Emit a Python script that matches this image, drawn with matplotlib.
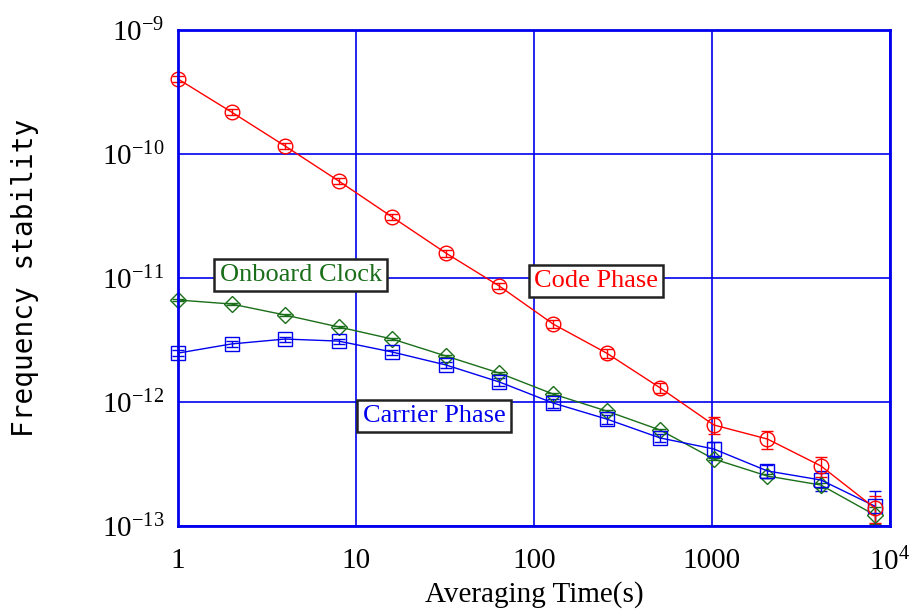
import matplotlib.pyplot as plt

plt.rcParams["mathtext.fontset"] = "custom"
plt.rcParams["mathtext.rm"] = "Liberation Serif"
plt.rcParams["mathtext.it"] = "Liberation Serif:italic"

# averaging times (s)
tau = [1, 2, 4, 8, 16, 32, 64, 128, 256, 512, 1024, 2048, 4096, 8192]

code_phase = [4.03e-10, 2.18e-10, 1.16e-10, 6.06e-11, 3.10e-11, 1.59e-11, 8.6e-12,
              4.26e-12, 2.48e-12, 1.30e-12, 6.53e-13, 5.03e-13, 3.05e-13, 1.40e-13]
code_err = [0.2e-10, 0.12e-10, 0.06e-10, 0.3e-11, 0.18e-11, 0.1e-11, 0.5e-12,
            0.3e-12, 0.2e-12, 0.12e-12, 1.0e-13, 0.85e-13, 0.55e-13, 0.35e-13]

onboard_clock = [6.65e-12, 6.17e-12, 5.03e-12, 4.03e-12, 3.22e-12, 2.35e-12, 1.71e-12,
                 1.16e-12, 8.46e-13, 5.94e-13, 3.47e-13, 2.53e-13, 2.14e-13, 1.23e-13]
clock_err = [0.1e-12, 0.1e-12, 0.08e-12, 0.06e-12, 0.05e-12, 0.04e-12, 0.03e-12,
             0.02e-12, 0.15e-13, 0.1e-13, 0.08e-13, 0.08e-13, 0.1e-13, 0.2e-13]

carrier_phase = [2.48e-12, 2.94e-12, 3.22e-12, 3.10e-12, 2.53e-12, 1.99e-12, 1.45e-12,
                 9.82e-13, 7.29e-13, 5.13e-13, 4.18e-13, 2.78e-13, 2.35e-13, 1.45e-13]
carrier_err = [0.15e-12, 0.15e-12, 0.15e-12, 0.15e-12, 0.12e-12, 0.12e-12, 0.1e-12,
               0.8e-13, 0.6e-13, 0.4e-13, 0.6e-13, 0.33e-13, 0.42e-13, 0.45e-13]

xticks = [1, 10, 100, 1000, 1e4]
xticklabels = ["1", "10", "100", "1000", "$10^4$"]
yticks = [1e-13, 1e-12, 1e-11, 1e-10, 1e-9]
yticklabels = ["$10^{-13}$", "$10^{-12}$", "$10^{-11}$", "$10^{-10}$", "$10^{-9}$"]

RED, GREEN, BLUE = "#ff0000", "#1a6e1a", "#0000ee"

fig = plt.figure(figsize=(9.14, 6.13), dpi=100)
ax = fig.add_axes([0.1947, 0.1419, 0.7790, 0.8091])
ax.set_xscale("log")
ax.set_yscale("log")

series = [
    (onboard_clock, clock_err, GREEN, "D", 8.5),
    (carrier_phase, carrier_err, BLUE, "s", 10.5),
    (code_phase, code_err, RED, "o", 10.5),
]
for vals, err, col, mk, ms in series:
    ax.errorbar(tau, vals, yerr=err, color=col, marker=mk, ms=ms, mfc="none",
                mec=col, mew=1.0, lw=1.0, elinewidth=1.0, capsize=4, capthick=1.0,
                clip_on=False)

ax.set_xlim(1, 1e4)
ax.set_ylim(1e-13, 1e-9)
ax.set_xticks(xticks)
ax.set_xticklabels(xticklabels)
ax.set_yticks(yticks)
ax.set_yticklabels(yticklabels)
ax.minorticks_off()
ax.tick_params(length=0, labelsize=21)
ax.tick_params(axis="x", pad=16)
ax.tick_params(axis="y", pad=10)
for lab in ax.get_xticklabels() + ax.get_yticklabels():
    lab.set_fontfamily("Liberation Serif")

ax.grid(True, color="#0000ee", lw=1.2)
ax.set_axisbelow(True)
for sp in ax.spines.values():
    sp.set_color("#0000ee")
    sp.set_linewidth(2)

ax.set_xlabel("Averaging Time(s)", fontsize=21, family="Liberation Serif", labelpad=3)
ax.set_ylabel("Frequency stability", fontsize=20, family="DejaVu Sans Mono")
ax.yaxis.set_label_coords(-0.215, 0.5)
ax.yaxis.label.set_va("center")

box = dict(boxstyle="square,pad=0.2", fc="white", ec="#222222", lw=1.8)
ax.text(4.9, 1.06e-11, "Onboard Clock", color=GREEN, fontsize=19,
        family="Liberation Serif", ha="center", va="center", bbox=box)
ax.text(223, 9.46e-12, "Code Phase", color=RED, fontsize=19,
        family="Liberation Serif", ha="center", va="center", bbox=box)
ax.text(27.4, 7.7e-13, "Carrier Phase", color=BLUE, fontsize=19,
        family="Liberation Serif", ha="center", va="center", bbox=box)

fig.savefig("out.png", dpi=100)
